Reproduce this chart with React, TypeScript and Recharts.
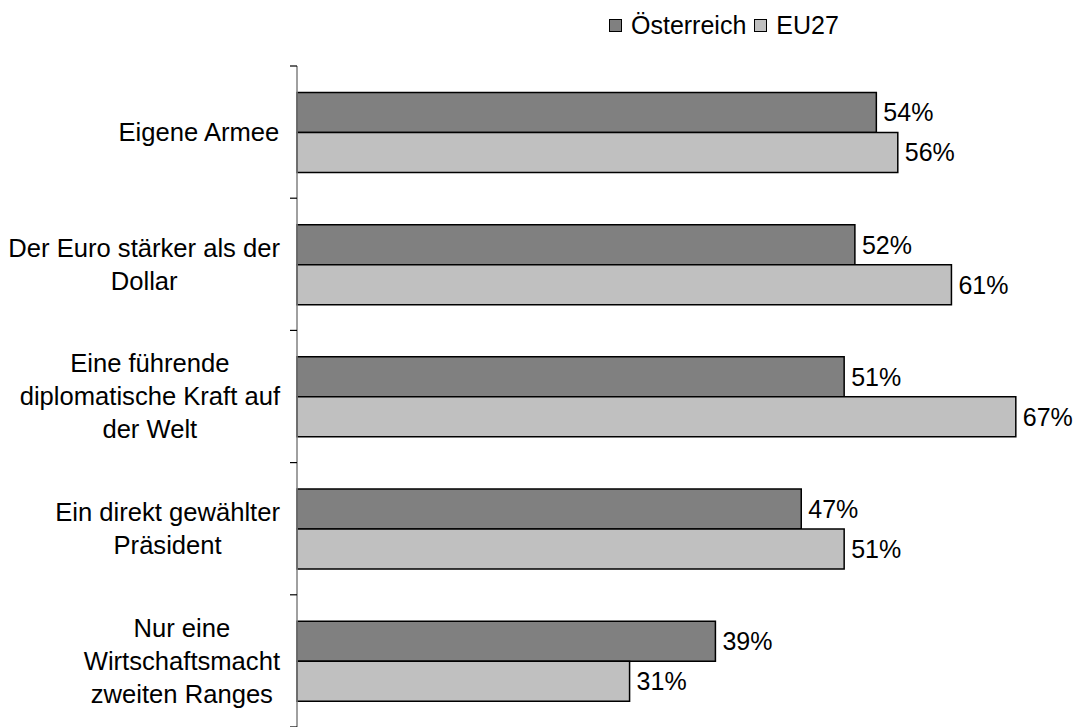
import React from "react";
import { BarChart, Bar, XAxis, YAxis, LabelList } from "recharts";

const categories = [
  "Eigene Armee",
  "Der Euro stärker als der\nDollar",
  "Eine führende\ndiplomatische Kraft auf\nder Welt",
  "Ein direkt gewählter\nPräsident",
  "Nur eine\nWirtschaftsmacht\nzweiten Ranges",
];
const austria = [54, 52, 51, 47, 39];
const eu27 = [56, 61, 67, 51, 31];
const seriesNames = ["Österreich", "EU27"];

const data = categories.map((name, i) => ({ name, at: austria[i], eu: eu27[i] }));

const W = 1077;
const H = 727;
const TOP = 66;
const BAND = (H - TOP) / categories.length;
const FONT = '"Liberation Sans", Arial, sans-serif';
const FS = 25;
const CAT_FS = 25.6;
const LINE = 33;
// default tickSize + tickMargin between axis line and tick x
const TICK_GAP = 8;

let ctx: CanvasRenderingContext2D | null = null;
function textWidth(s: string) {
  if (!ctx) ctx = document.createElement("canvas").getContext("2d");
  if (!ctx) return s.length * CAT_FS * 0.5;
  ctx.font = `${CAT_FS}px ${FONT}`;
  return ctx.measureText(s).width;
}

function CategoryTick(props: any) {
  const { x, y, payload, index } = props;
  const ax = x + TICK_GAP;
  const lines = String(payload.value).split("\n");
  const maxW = Math.max(...lines.map(textWidth));
  const right = ax - 17;
  const cx = right - maxW / 2;
  const startY = y - ((lines.length - 1) * LINE) / 2;
  return (
    <g>
      <line x1={ax - 7} x2={ax} y1={y - BAND / 2} y2={y - BAND / 2} stroke="#000" strokeWidth={1.2} />
      {index === categories.length - 1 && (
        <line x1={ax - 7} x2={ax} y1={y + BAND / 2} y2={y + BAND / 2} stroke="#000" strokeWidth={1.2} />
      )}
      <text textAnchor="middle" fontFamily={FONT} fontSize={CAT_FS} fill="#000">
        {lines.map((l, i) => (
          <tspan key={i} x={cx} y={startY + i * LINE} dy="0.35em">
            {l}
          </tspan>
        ))}
      </text>
    </g>
  );
}

const COLORS = ["#808080", "#c0c0c0"];

function LegendBox() {
  return (
    <div
      style={{
        position: "absolute",
        left: 609,
        top: 11,
        display: "flex",
        alignItems: "center",
        fontFamily: FONT,
        fontSize: FS,
        color: "#000",
      }}
    >
      {seriesNames.map((n, i) => (
        <div key={n} style={{ display: "flex", alignItems: "center", marginRight: 8 }}>
          <span
            style={{
              display: "inline-block",
              width: 11,
              height: 11,
              background: COLORS[i],
              border: "1px solid #000",
              marginRight: 9,
            }}
          />
          <span>{n}</span>
        </div>
      ))}
    </div>
  );
}

export default function App() {
  return (
    <div style={{ position: "absolute", left: 0, top: 0, width: W, height: H, background: "#fff" }}>
      <BarChart
        width={W}
        height={H}
        data={data}
        layout="vertical"
        margin={{ top: TOP, right: 29, left: 0, bottom: 0 }}
        barCategoryGap="20%"
        barGap={0}
      >
        <XAxis type="number" domain={[0, 70]} hide />
        <YAxis
          type="category"
          dataKey="name"
          width={297}
          axisLine={{ stroke: "#808080", strokeWidth: 1.5 }}
          tickLine={false}
          tick={<CategoryTick />}
          interval={0}
        />
        <Bar dataKey="at" name={seriesNames[0]} fill={COLORS[0]} stroke="#000" strokeWidth={1.5} isAnimationActive={false}>
          <LabelList dataKey="at" position="right" offset={7} formatter={(v: any) => `${v}%`} style={{ fontFamily: FONT, fontSize: FS, fill: "#000" }} />
        </Bar>
        <Bar dataKey="eu" name={seriesNames[1]} fill={COLORS[1]} stroke="#000" strokeWidth={1.5} isAnimationActive={false}>
          <LabelList dataKey="eu" position="right" offset={7} formatter={(v: any) => `${v}%`} style={{ fontFamily: FONT, fontSize: FS, fill: "#000" }} />
        </Bar>
      </BarChart>
      <LegendBox />
    </div>
  );
}
